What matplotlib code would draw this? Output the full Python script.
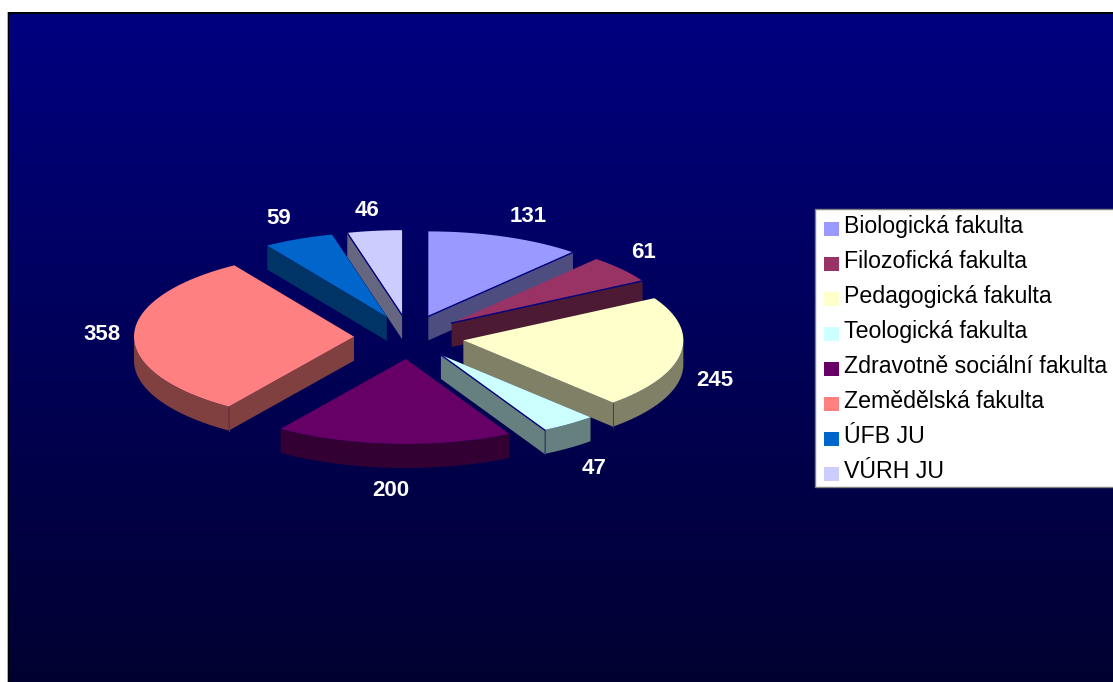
import numpy as np
import matplotlib
matplotlib.use("Agg")
import matplotlib.pyplot as plt
from matplotlib.patches import Polygon, Rectangle

plt.rcParams['font.family'] = ['Liberation Sans', 'DejaVu Sans']

faculties = ['Biologická fakulta', 'Filozofická fakulta', 'Pedagogická fakulta',
             'Teologická fakulta', 'Zdravotně sociální fakulta', 'Zemědělská fakulta',
             'ÚFB JU', 'VÚRH JU']
counts = [131, 61, 245, 47, 200, 358, 59, 46]
top_colors = ['#9999FF', '#993366', '#FFFFCC', '#CCFFFF', '#660066', '#FF8080', '#0066CC', '#CCCCFF']
wall_colors = ['#4D4D80', '#4D1A33', '#808066', '#668080', '#330033', '#804040', '#003366', '#666680']

# label spots, in pixels of the 1113x682 picture
label_xy = [(528, 216), (644, 253), (715, 380), (594, 469), (391, 490), (102, 335), (279, 218), (367, 210)]

# pie geometry in pixels
cx, cy = 409, 337
rx, ry = 220, 85
ex, ey = 55, 22
depth = 24

# slices that get a thin navy line along the front edge
lined = [0, 1, 3, 7]

fig = plt.figure(figsize=(11.13, 6.82), dpi=100, facecolor='white')
ax = fig.add_axes([0, 0, 1, 1])
ax.set_xlim(0, 1113)
ax.set_ylim(682, 0)
ax.axis('off')

# background, navy fading to almost black
grad = np.zeros((256, 1, 3))
grad[:, 0, 2] = np.linspace(128, 48, 256) / 255
ax.imshow(grad, extent=(9, 1113, 682, 14), aspect='auto', zorder=0)
ax.set_xlim(0, 1113)
ax.set_ylim(682, 0)
ax.add_patch(Rectangle((7, 12), 1106, 2, fc='black', ec='none', zorder=1))
ax.add_patch(Rectangle((6.5, 12), 1.5, 670, fc='#B0B0B0', ec='none', zorder=1))
ax.add_patch(Rectangle((8, 12), 1, 670, fc='black', ec='none', zorder=1))

total = sum(counts)
edges = np.cumsum([0] + counts) / total * 2 * np.pi

# back slices first
mids = (edges[:-1] + edges[1:]) / 2
order = sorted(range(len(counts)), key=lambda i: -np.cos(mids[i]))

z = 2
for i in order:
    a0, a1 = edges[i], edges[i + 1]
    mid = mids[i]
    ax0 = cx + ex * np.sin(mid)
    ay0 = cy - ey * np.cos(mid)
    t = np.linspace(a0, a1, 80)
    rim_x = ax0 + rx * np.sin(t)
    rim_y = ay0 - ry * np.cos(t)

    # radial walls
    inner = (ax0 + 0.6 * rx * np.sin(mid), ay0 - 0.6 * ry * np.cos(mid))
    for px, py in [(rim_x[0], rim_y[0]), (rim_x[-1], rim_y[-1])]:
        dx, dy = px - ax0, py - ay0
        nx, ny = -dy, dx
        if nx * (inner[0] - ax0) + ny * (inner[1] - ay0) > 0:
            nx, ny = -nx, -ny
        if ny > 1e-6:
            ax.add_patch(Polygon([(ax0, ay0), (px, py), (px, py + depth), (ax0, ay0 + depth)],
                                 closed=True, fc=wall_colors[i], ec='none', zorder=z))
            z += 1
            if i in lined:
                ax.plot([ax0, px], [ay0, py], color='#000080', lw=1, zorder=z + 2)
            if py > ay0 + 20:
                ax.plot([px, px], [py, py + depth], color='#404060', lw=0.7, zorder=z + 2)

    # rim wall, only the front half of the ellipse shows
    front = np.cos(t) < 0
    if front.any():
        fx, fy = rim_x[front], rim_y[front]
        ax.add_patch(Polygon(np.r_[np.c_[fx, fy], np.c_[fx[::-1], fy[::-1] + depth]],
                             closed=True, fc=wall_colors[i], ec='none', zorder=z))
        z += 1

    ax.add_patch(Polygon(np.r_[[(ax0, ay0)], np.c_[rim_x, rim_y]],
                         closed=True, fc=top_colors[i], ec='none', zorder=z))
    z += 3

for n, (lx, ly) in zip(counts, label_xy):
    ax.text(lx, ly, str(n), color='white', fontsize=16, fontweight='bold',
            ha='center', va='center', zorder=200)

# legend box
ax.add_patch(Rectangle((815, 209), 300, 278, fc='white', ec='#808080', lw=1, zorder=200))
for k, name in enumerate(faculties):
    y = 226 + 35 * k
    ax.add_patch(Rectangle((824, y - 4), 15, 14, fc=top_colors[k], ec='none', zorder=201))
    ax.text(844, y + 7, name, color='black', fontsize=16.7, ha='left', va='baseline', zorder=201)

fig.savefig('out.png', dpi=100)
